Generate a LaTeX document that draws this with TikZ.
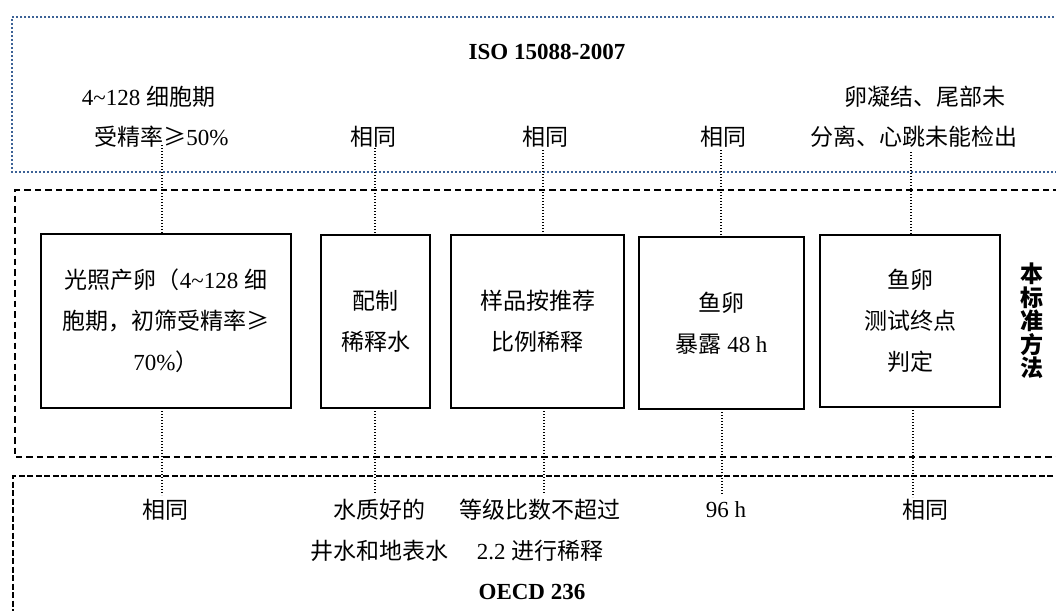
\documentclass[tikz,border=0pt]{standalone}
\usepackage{fontspec}
\setmainfont{Liberation Serif}
\newfontfamily\cjk{Noto Sans CJK SC}
\newcommand{\C}[1]{{\cjk #1}}
\definecolor{isoblue}{HTML}{3C6296}
\tikzset{
  x=1pt, y=-1pt,
  every node/.style={inner sep=0pt, outer sep=0pt, font=\fontsize{23}{41}\selectfont, align=center},
  stepbox/.style={draw, line width=1.4pt},
  conn/.style={line width=1.2pt, dash pattern=on 1.2pt off 1.8pt},
  isoframe/.style={draw=isoblue, line width=1.8pt, dash pattern=on 1.8pt off 2.2pt},
  midframe/.style={draw, line width=1.5pt, dash pattern=on 6.5pt off 4pt},
  oecdframe/.style={draw, line width=2.2pt, dash pattern=on 6pt off 2.5pt},
  bold/.style={font=\fontsize{23}{41}\selectfont\bfseries}
}
\begin{document}
\begin{tikzpicture}
\useasboundingbox (0,0) rectangle (1056,610);
\clip (0,0) rectangle (1056,610);
% frames
\draw[isoframe] (1070,17) -- (12,17) -- (12,172) -- (1070,172);
\draw[midframe] (1070,190) -- (15,190) -- (15,457) -- (1070,457);
\draw[oecdframe] (1070,476) -- (13,476) -- (13,630);

% boxes
\node[stepbox, minimum width=250pt, minimum height=174pt] (b1) at (166,321)
  {\C{光照产卵（}4\textasciitilde 128 \C{细}\\\C{胞期，初筛受精率≥}\\70\%\C{）}};
\node[stepbox, minimum width=109pt, minimum height=173pt] (b2) at (375.5,321.5)
  {\C{配制}\\\C{稀释水}};
\node[stepbox, minimum width=173pt, minimum height=173pt] (b3) at (537.5,321.5)
  {\C{样品按推荐}\\\C{比例稀释}};
\node[stepbox, minimum width=165pt, minimum height=172pt] (b4) at (721.5,323)
  {\C{鱼卵}\\\C{暴露} 48 h};
\node[stepbox, minimum width=180pt, minimum height=172pt] (b5) at (910,321)
  {\C{鱼卵}\\\C{测试终点}\\\C{判定}};
\node[font=\fontsize{23}{23.5}\selectfont\bfseries] (std) at (1032,321)
  {\C{本}\\\C{标}\\\C{准}\\\C{方}\\\C{法}};

% ISO labels
\node[bold] (iso) at (547,52) {ISO 15088-2007};
\node (i1a) at (148.5,97) {4\textasciitilde 128 \C{细胞期}};
\node (i1b) at (161.5,137) {\C{受精率≥}50\%};
\node (i2) at (373.5,137) {\C{相同}};
\node (i3) at (545,137) {\C{相同}};
\node (i4) at (723.5,137) {\C{相同}};
\node (i5a) at (924.5,97) {\C{卵凝结、尾部未}};
\node (i5b) at (914,137) {\C{分离、心跳未能检出}};

% OECD labels
\node (o1) at (165,510) {\C{相同}};
\node (o2) at (379,530) {\C{水质好的}\\\C{井水和地表水}};
\node (o3) at (540,530) {\C{等级比数不超过}\\2.2 \C{进行稀释}};
\node (o4) at (726,510) {96 h};
\node (o5) at (925,510) {\C{相同}};
\node[bold] (oecd) at (532,592) {OECD 236};

% connector end points
\coordinate (u1) at (162,145);
\coordinate (u2) at (375,148);
\coordinate (u3) at (543,150);
\coordinate (u4) at (721,150);
\coordinate (u5) at (911,152);
\coordinate (d1) at (162,495);
\coordinate (d2) at (375,493);
\coordinate (d3) at (544,494);
\coordinate (d4) at (722,494);
\coordinate (d5) at (913,497);

\draw[conn] (u1) -- (u1 |- b1.north);
\draw[conn] (u2) -- (u2 |- b2.north);
\draw[conn] (u3) -- (u3 |- b3.north);
\draw[conn] (u4) -- (u4 |- b4.north);
\draw[conn] (u5) -- (u5 |- b5.north);
\draw[conn] (d1 |- b1.south) -- (d1);
\draw[conn] (d2 |- b2.south) -- (d2);
\draw[conn] (d3 |- b3.south) -- (d3);
\draw[conn] (d4 |- b4.south) -- (d4);
\draw[conn] (d5 |- b5.south) -- (d5);
\end{tikzpicture}
\end{document}
